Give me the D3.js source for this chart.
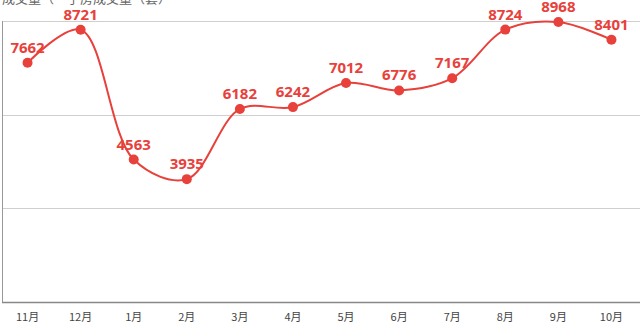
<!DOCTYPE html>
<html>
<head>
<meta charset="utf-8">
<script src="https://cdn.jsdelivr.net/npm/d3@7"></script>
<style>
body { margin: 0; background: #fff; }
svg { display: block; font-family: "Noto Sans CJK SC", "Open Sans", sans-serif; }
</style>
</head>
<body>
<div id="chart"></div>
<script>
const months = ["11月", "12月", "1月", "2月", "3月", "4月", "5月", "6月", "7月", "8月", "9月", "10月"];
const values = [7662, 8721, 4563, 3935, 6182, 6242, 7012, 6776, 7167, 8724, 8968, 8401];
const yTicks = [0, 3000, 6000, 9000];
const title = "成交量（一手房成交量（套）";

const width = 640, height = 336;
const margin = {top: 21, right: 2, bottom: 34, left: 2};
const red = "#e8413b";

const svg = d3.select("#chart").append("svg")
  .attr("width", width).attr("height", height);

const x = d3.scaleBand()
  .domain(months)
  .range([margin.left - 1, width - margin.right]);

const y = d3.scaleLinear()
  .domain([0, 9000])
  .range([height - margin.bottom, margin.top]);

// title, cut off by the top edge as in the source
svg.append("text")
  .attr("x", 2).attr("y", 3)
  .attr("font-size", 13).attr("fill", "#666")
  .text(title);

// gridlines
svg.append("g").selectAll("line")
  .data(yTicks.filter(d => d > 0))
  .join("line")
  .attr("x1", margin.left).attr("x2", width)
  .attr("y1", d => Math.round(y(d)) + 0.5).attr("y2", d => Math.round(y(d)) + 0.5)
  .attr("stroke", "#cfcfcf");

// y axis line
svg.append("line")
  .attr("x1", margin.left + 0.5).attr("x2", margin.left + 0.5)
  .attr("y1", y(9000)).attr("y2", y(0))
  .attr("stroke", "#999");

// x axis
const xAxis = svg.append("g")
  .attr("transform", `translate(0,${Math.round(y(0)) + 0.5})`)
  .call(d3.axisBottom(x).tickSize(0).tickPadding(11));
xAxis.select(".domain").attr("stroke", "#888").attr("stroke-width", 1.5)
  .attr("d", `M${margin.left},0H${width}`);
xAxis.selectAll("text").attr("font-size", 11).attr("fill", "#444")
  .attr("font-family", "\"Noto Sans CJK SC\", sans-serif");

const cx = d => x(d) + x.bandwidth() / 2;

// line
const line = d3.line()
  .x((d, i) => cx(months[i]))
  .y(d => y(d))
  .curve(d3.curveCatmullRom.alpha(0.5));

svg.append("path")
  .datum(values)
  .attr("d", line)
  .attr("fill", "none")
  .attr("stroke", red)
  .attr("stroke-width", 2);

// points
svg.append("g").selectAll("circle")
  .data(values)
  .join("circle")
  .attr("cx", (d, i) => cx(months[i]))
  .attr("cy", d => y(d))
  .attr("r", 5)
  .attr("fill", red);

// labels
svg.append("g").selectAll("text")
  .data(values)
  .join("text")
  .attr("x", (d, i) => cx(months[i]))
  .attr("y", d => y(d) - 10)
  .attr("text-anchor", "middle")
  .attr("font-size", 15)
  .attr("font-weight", "bold")
  .attr("font-family", "\"Open Sans\", sans-serif")
  .attr("fill", red)
  .text(d => d);
</script>
</body>
</html>
